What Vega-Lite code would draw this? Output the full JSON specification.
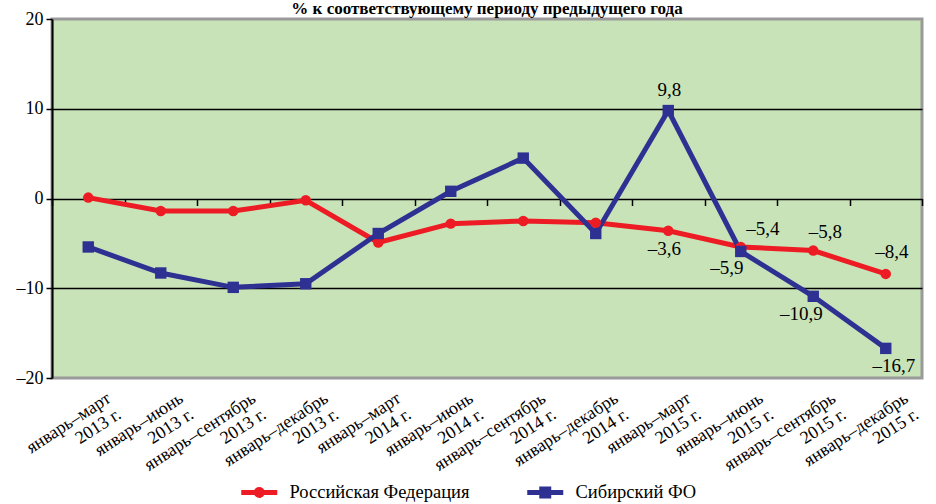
{
  "$schema": "https://vega.github.io/schema/vega-lite/v6.json",
  "width": 870,
  "height": 359,
  "autosize": {"type": "none"},
  "padding": {"left": 52, "top": 19, "right": 14, "bottom": 126},
  "title": {
    "text": "% к соответствующему периоду предыдущего года",
    "font": "Liberation Serif",
    "fontSize": 17,
    "fontWeight": "bold",
    "color": "black",
    "anchor": "middle",
    "frame": "group",
    "baseline": "bottom",
    "offset": -25
  },
  "config": {
    "locale": {"number": {"decimal": ",", "thousands": "\u00a0", "grouping": [3], "currency": ["", ""], "minus": "–"}},
    "view": {"fill": "#c9e3b8", "stroke": "#9a9a9a", "strokeWidth": 3},
    "axis": {"labelFont": "Liberation Serif", "labelFontSize": 18, "labelColor": "black", "title": null},
    "text": {"font": "Liberation Serif", "fontSize": 19, "color": "black"}
  },
  "data": {
    "values": [
      {"period": "январь–март 2013 г.", "series": "Российская Федерация", "value": 0.1},
      {"period": "январь–июнь 2013 г.", "series": "Российская Федерация", "value": -1.4},
      {"period": "январь–сентябрь 2013 г.", "series": "Российская Федерация", "value": -1.4},
      {"period": "январь–декабрь 2013 г.", "series": "Российская Федерация", "value": -0.2},
      {"period": "январь–март 2014 г.", "series": "Российская Федерация", "value": -4.9},
      {"period": "январь–июнь 2014 г.", "series": "Российская Федерация", "value": -2.8},
      {"period": "январь–сентябрь 2014 г.", "series": "Российская Федерация", "value": -2.5},
      {"period": "январь–декабрь 2014 г.", "series": "Российская Федерация", "value": -2.7},
      {"period": "январь–март 2015 г.", "series": "Российская Федерация", "value": -3.6},
      {"period": "январь–июнь 2015 г.", "series": "Российская Федерация", "value": -5.4},
      {"period": "январь–сентябрь 2015 г.", "series": "Российская Федерация", "value": -5.8},
      {"period": "январь–декабрь 2015 г.", "series": "Российская Федерация", "value": -8.4},
      {"period": "январь–март 2013 г.", "series": "Сибирский ФО", "value": -5.4},
      {"period": "январь–июнь 2013 г.", "series": "Сибирский ФО", "value": -8.3},
      {"period": "январь–сентябрь 2013 г.", "series": "Сибирский ФО", "value": -9.9},
      {"period": "январь–декабрь 2013 г.", "series": "Сибирский ФО", "value": -9.5},
      {"period": "январь–март 2014 г.", "series": "Сибирский ФО", "value": -3.9},
      {"period": "январь–июнь 2014 г.", "series": "Сибирский ФО", "value": 0.8},
      {"period": "январь–сентябрь 2014 г.", "series": "Сибирский ФО", "value": 4.5},
      {"period": "январь–декабрь 2014 г.", "series": "Сибирский ФО", "value": -3.9},
      {"period": "январь–март 2015 г.", "series": "Сибирский ФО", "value": 9.8},
      {"period": "январь–июнь 2015 г.", "series": "Сибирский ФО", "value": -5.9},
      {"period": "январь–сентябрь 2015 г.", "series": "Сибирский ФО", "value": -10.9},
      {"period": "январь–декабрь 2015 г.", "series": "Сибирский ФО", "value": -16.7}
    ]
  },
  "encoding": {
    "x": {
      "field": "period", "type": "nominal", "sort": null, "axis": null,
      "scale": {"type": "band", "paddingInner": 0, "paddingOuter": 0,
        "domain": ["январь–март 2013 г.", "январь–июнь 2013 г.", "январь–сентябрь 2013 г.", "январь–декабрь 2013 г.", "январь–март 2014 г.", "январь–июнь 2014 г.", "январь–сентябрь 2014 г.", "январь–декабрь 2014 г.", "январь–март 2015 г.", "январь–июнь 2015 г.", "январь–сентябрь 2015 г.", "январь–декабрь 2015 г."]}
    },
    "y": {
      "field": "value", "type": "quantitative",
      "scale": {"domain": [-20, 20], "nice": false, "zero": false},
      "axis": {
        "values": [-20, -10, 0, 10, 20],
        "domainColor": "black", "domainWidth": 2,
        "tickColor": "black", "tickWidth": 1.5, "tickSize": 6,
        "labelPadding": 3,
        "grid": true,
        "gridColor": {"condition": {"test": "abs(datum.value) == 20", "value": "transparent"}, "value": "black"},
        "gridWidth": 1.5
      }
    }
  },
  "layer": [
    {
      "mark": {"type": "line", "strokeWidth": 5},
      "encoding": {
        "x": {
          "field": "period", "type": "nominal", "sort": null,
          "axis": {
            "orient": "bottom", "domain": false, "ticks": false, "grid": false,
            "labelAngle": -33, "labelAlign": "right", "labelBaseline": "top",
            "labelPadding": 11, "labelOffset": 16, "labelLineHeight": 19,
            "labelOverlap": false, "labelBound": false, "labelFlush": false, "labelLimit": 300,
            "labelExpr": "[substring(datum.label, 0, indexof(datum.label, ' 20')), substring(datum.label, indexof(datum.label, ' 20') + 1)]"
          }
        },
        "color": {
          "field": "series", "type": "nominal",
          "scale": {"domain": ["Российская Федерация", "Сибирский ФО"], "range": ["#ed1c24", "#2e3192"]},
          "legend": {
            "title": null, "orient": "none", "legendX": 198, "legendY": 464,
            "direction": "horizontal", "padding": 0,
            "labelFont": "Liberation Serif", "labelFontSize": 18.5, "labelColor": "black", "labelLimit": 400,
            "symbolSize": 100, "labelOffset": 21, "columnPadding": 57,
            "encode": {
              "symbols": {
                "update": {
                  "shape": {"signal": "datum.value === 'Российская Федерация' ? 'M-3.6,-0.5L3.6,-0.5L3.6,0.5L-3.6,0.5Z M-1.1,0A1.1,1.1 0 1,1 1.1,0A1.1,1.1 0 1,1 -1.1,0Z' : 'M-3.6,-0.5L3.6,-0.5L3.6,0.5L-3.6,0.5Z M-1.2,-1.2L1.2,-1.2L1.2,1.2L-1.2,1.2Z'"},
                  "fill": {"signal": "datum.value === 'Российская Федерация' ? '#ed1c24' : '#2e3192'"},
                  "stroke": {"value": "transparent"},
                  "strokeWidth": {"value": 0},
                  "size": {"value": 100},
                  "opacity": {"value": 1}
                }
              }
            }
          }
        }
      }
    },
    {
      "transform": [{"filter": "datum.series === 'Российская Федерация'"}],
      "mark": {"type": "point", "shape": "circle", "size": 110, "filled": true, "opacity": 1, "strokeWidth": 0, "color": "#ed1c24"},
      "encoding": {
        "x": {
          "field": "period", "type": "nominal", "sort": null,
          "axis": {
            "orient": "top", "offset": -179.5, "labels": false, "domain": false, "grid": false,
            "ticks": true, "tickSize": -7, "tickColor": "black", "tickWidth": 1.5, "tickBand": "extent"
          }
        }
      }
    },
    {
      "transform": [{"filter": "datum.series === 'Сибирский ФО'"}],
      "mark": {"type": "point", "shape": "square", "size": 130, "filled": true, "opacity": 1, "strokeWidth": 0, "color": "#2e3192"}
    },
    {
      "transform": [{"filter": "datum.series === 'Сибирский ФО' && datum.period === 'январь–март 2015 г.'"}],
      "mark": {"type": "text", "dx": 1, "dy": -15, "baseline": "alphabetic"},
      "encoding": {"text": {"field": "value", "type": "quantitative", "format": ".1f"}}
    },
    {
      "transform": [{"filter": "datum.series === 'Российская Федерация' && datum.period === 'январь–март 2015 г.'"}],
      "mark": {"type": "text", "dx": -4, "dy": 24, "baseline": "alphabetic"},
      "encoding": {"text": {"field": "value", "type": "quantitative", "format": ".1f"}}
    },
    {
      "transform": [{"filter": "datum.series === 'Российская Федерация' && datum.period === 'январь–июнь 2015 г.'"}],
      "mark": {"type": "text", "dx": 22, "dy": -12, "baseline": "alphabetic"},
      "encoding": {"text": {"field": "value", "type": "quantitative", "format": ".1f"}}
    },
    {
      "transform": [{"filter": "datum.series === 'Сибирский ФО' && datum.period === 'январь–июнь 2015 г.'"}],
      "mark": {"type": "text", "dx": -14, "dy": 23, "baseline": "alphabetic"},
      "encoding": {"text": {"field": "value", "type": "quantitative", "format": ".1f"}}
    },
    {
      "transform": [{"filter": "datum.series === 'Российская Федерация' && datum.period === 'январь–сентябрь 2015 г.'"}],
      "mark": {"type": "text", "dx": 12, "dy": -13, "baseline": "alphabetic"},
      "encoding": {"text": {"field": "value", "type": "quantitative", "format": ".1f"}}
    },
    {
      "transform": [{"filter": "datum.series === 'Сибирский ФО' && datum.period === 'январь–сентябрь 2015 г.'"}],
      "mark": {"type": "text", "dx": -12, "dy": 24, "baseline": "alphabetic"},
      "encoding": {"text": {"field": "value", "type": "quantitative", "format": ".1f"}}
    },
    {
      "transform": [{"filter": "datum.series === 'Российская Федерация' && datum.period === 'январь–декабрь 2015 г.'"}],
      "mark": {"type": "text", "dx": 6, "dy": -16, "baseline": "alphabetic"},
      "encoding": {"text": {"field": "value", "type": "quantitative", "format": ".1f"}}
    },
    {
      "transform": [{"filter": "datum.series === 'Сибирский ФО' && datum.period === 'январь–декабрь 2015 г.'"}],
      "mark": {"type": "text", "dx": 8, "dy": 24, "baseline": "alphabetic"},
      "encoding": {"text": {"field": "value", "type": "quantitative", "format": ".1f"}}
    }
  ],
  "resolve": {"axis": {"x": "independent"}}
}
